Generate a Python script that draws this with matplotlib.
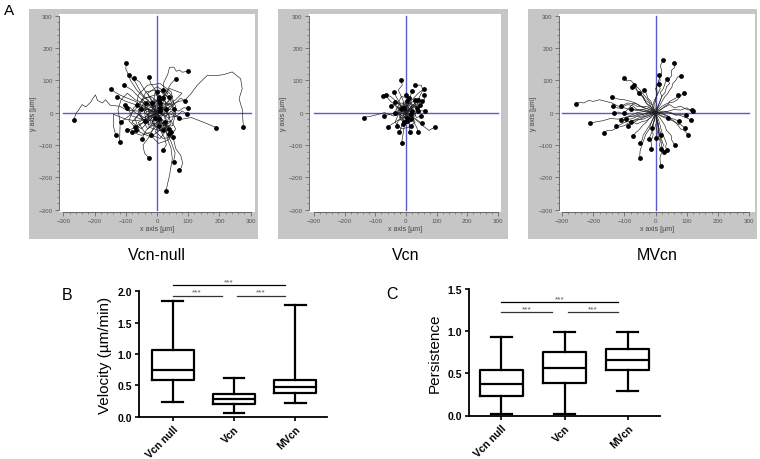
import matplotlib
matplotlib.use("Agg")
import matplotlib.pyplot as plt
from matplotlib.patches import Rectangle
from matplotlib.ticker import MultipleLocator

plt.rcParams['font.family'] = ['Liberation Sans', 'DejaVu Sans']

# ---- data -------------------------------------------------------------
panel_names = ["Vcn-null", "Vcn", "MVcn"]

# cell tracks (x, y in um), each starting at the origin
vcn_null_tracks = [
    [(0, 0), (20, 30), (45, 25), (70, 35), (89, 38), (110, 60), (129, 85), (150, 105), (161, 115), (193, 115),
     (215, 118), (241, 126), (255, 115), (268, 105), (273, 74), (263, 43), (270, 20), (273, 12), (275, -20), (277, -43)],
    [(0, 0), (-30, 10), (-60, 5), (-95, 7), (-120, 20), (-150, 23), (-165, 40), (-175, 30), (-191, 38), (-197, 55),
     (-205, 45), (-212, 33), (-228, 18), (-240, 25), (-250, 10), (-260, -3), (-266, -23)],
    [(0, 0), (10, 30), (25, 60), (20, 90), (35, 120), (40, 140), (54, 141), (62, 128), (72, 132), (80, 125), (98, 128)],
    [(0, 0), (12, -25), (30, -55), (33, -80), (45, -110), (49, -142), (44, -170), (40, -195), (35, -215), (29, -241)],
    [(0, 0), (20, -35), (45, -60), (55, -90), (60, -111), (76, -132), (82, -155), (78, -170), (70, -176)],
    [(0, 0), (-15, -30), (10, -55), (30, -60), (45, -90), (58, -125), (53, -153)],
    [(0, 0), (-20, 30), (-45, 50), (-65, 70), (-85, 100), (-95, 125), (-100, 135), (-98, 154)],
    [(0, 0), (-25, 35), (-50, 60), (-70, 95), (-89, 115)],
    [(0, 0), (-20, 45), (-40, 70), (-55, 95), (-75, 107)],
    [(0, 0), (-10, 40), (-5, 70), (-20, 90), (-26, 110)],
    [(0, 0), (15, 35), (30, 65), (45, 90), (60, 105)],
    [(0, 0), (-35, 15), (-70, 35), (-95, 45), (-120, 55), (-148, 72)],
    [(0, 0), (-35, 5), (-70, 25), (-100, 35), (-127, 48)],
    [(0, 0), (-25, 25), (-55, 45), (-80, 70), (-106, 85)],
    [(0, 0), (-40, -15), (-70, 0), (-85, 15), (-102, 23)],
    [(0, 0), (-35, -20), (-70, -25), (-100, -20), (-140, -5), (-140, -40), (-135, -60), (-130, -70)],
    [(0, 0), (-25, -25), (-55, -35), (-80, -50), (-95, -55)],
    [(0, 0), (-20, -15), (-45, -30), (-68, -52)],
    [(0, 0), (-15, -35), (-35, -55), (-49, -82)],
    [(0, 0), (-10, -45), (-25, -75), (-45, -100), (-40, -125), (-26, -140)],
    [(0, 0), (5, -45), (25, -80), (30, -100), (19, -116)],
    [(0, 0), (45, -5), (80, -20), (110, -15), (150, -30), (175, -40), (190, -46)],
    [(0, 0), (35, 15), (60, 30), (75, 45), (90, 37)],
    [(0, 0), (40, 10), (70, 5), (85, 15), (98, 14)],
    [(0, 0), (35, -15), (65, -10), (80, 5), (95, -3)],
    [(0, 0), (20, -25), (30, -45), (38, -65)],
    [(0, 0), (5, 30), (20, 50), (18, 71)],
    [(0, 0), (-25, 5), (-45, 30), (-70, 40), (-95, 60), (-115, 40), (-125, 10), (-118, -30), (-120, -90)],
    [(0, 0), (20, 20), (-10, 40), (-40, 20), (-30, -10), (10, -20), (30, 10)],
    [(0, 0), (-20, -10), (-10, -40), (20, -30), (40, -50)],
    [(0, 0), (-30, 10), (-50, 40), (-20, 50), (10, 30)],
    [(0, 0), (30, -10), (40, 20), (15, 45), (-15, 30)],
    [(0, 0), (-15, -25), (-45, -20), (-60, 10), (-35, 30)],
    [(0, 0), (25, 25), (50, 50), (30, 70), (0, 65)],
    [(0, 0), (10, -30), (-20, -60), (-50, -70), (-80, -60)],
    [(0, 0), (30, -40), (50, -20), (60, 20), (40, 50)],
    [(0, 0), (-5, 20), (15, 25), (20, -5), (-5, -15)],
    [(0, 0), (-25, 0), (-30, -35), (0, -45), (25, -30)],
    [(0, 0), (15, 15), (35, 0), (45, -35), (20, -55)],
    [(0, 0), (-10, 10), (-30, -5), (-20, -30), (5, -20)],
    [(0, 0), (40, 30), (60, 0), (50, -40), (20, -45), (45, -60)],
    [(0, 0), (-40, 35), (-60, 0), (-30, -50), (0, -30), (-10, 10), (-50, 10)],
    [(0, 0), (35, 60), (0, 80), (-30, 60), (-10, 20), (5, 50)],
    [(0, 0), (-60, -30), (-40, -60), (10, -80), (40, -40), (5, -40)],
    [(0, 0), (60, 40), (80, 60), (40, 75), (20, 45)],
    [(0, 0), (-50, -50), (-80, -30), (-60, -5), (-40, -25)],
    [(0, 0), (-60, 20), (-90, -10), (-110, -25), (-115, -28)],
    [(0, 0), (-20, 25), (-45, 10), (-70, -20), (-55, -60), (-20, -75), (15, -50), (30, -20), (10, 5)],
    [(0, 0), (25, -5), (55, 25), (45, 65), (10, 90), (-30, 85), (-60, 55), (-65, 25)],
    [(0, 0), (-10, -20), (15, -35), (45, -25), (60, -50), (35, -85), (5, -95), (-20, -70)],
    [(0, 0), (30, 15), (25, 40), (-5, 55), (-40, 45), (-75, 15), (-90, -25), (-70, -45)],
    [(0, 0), (-35, -5), (-55, 25), (-35, 65), (5, 70), (40, 45), (55, 10)],
    [(0, 0), (15, -20), (-5, -35), (-35, -30), (-40, 5), (-15, 20), (10, 15)],
    [(0, 0), (20, 10), (40, -10), (30, -35), (5, -30), (-5, -60), (20, -80), (50, -75)],
    [(0, 0), (-30, -15), (-25, -45), (5, -55), (30, -45), (25, -15), (45, 5), (70, -15)],
    [(0, 0), (10, 25), (-15, 35), (-30, 20), (-25, -5), (-50, -20), (-80, -10), (-95, 15)],
    [(0, 0), (-15, 15), (5, 30), (30, 25), (45, 45), (25, 55), (5, 40)],
]

vcn_tracks = [
    [(0, 0), (-10, 40), (-25, 70), (-12, 85), (-16, 102)],
    [(0, 0), (-30, 20), (-50, 35), (-62, 48), (-75, 51)],
    [(0, 0), (-25, 30), (-50, 50), (-64, 56)],
    [(0, 0), (-20, 30), (-35, 55), (-40, 65)],
    [(0, 0), (-15, 20), (-34, 34)],
    [(0, 0), (-40, -10), (-70, 0), (-90, -5), (-110, -10), (-138, -15)],
    [(0, 0), (-30, 0), (-50, -5), (-70, -9)],
    [(0, 0), (-20, -20), (-45, -35), (-59, -45)],
    [(0, 0), (-10, -30), (-21, -61)],
    [(0, 0), (-5, -40), (-10, -70), (-14, -94)],
    [(0, 0), (10, -30), (12, -61)],
    [(0, 0), (20, -20), (35, -45), (41, -61)],
    [(0, 0), (25, -15), (53, -33)],
    [(0, 0), (30, -20), (55, -40), (75, -55), (95, -44)],
    [(0, 0), (10, 35), (20, 68)],
    [(0, 0), (20, 40), (40, 60), (58, 73)],
    [(0, 0), (30, 30), (60, 40), (60, 56)],
    [(0, 0), (25, 20), (52, 37)],
    [(0, 0), (30, 5), (63, 6)],
    [(0, 0), (20, 15), (45, 24)],
    [(0, 0), (40, 40), (55, 70), (50, 85), (30, 85)],
    [(0, 0), (10, 15), (-5, 25), (-15, 10)],
    [(0, 0), (-10, -10), (5, -20), (15, -5)],
    [(0, 0), (15, -5), (20, 20), (5, 35)],
    [(0, 0), (-15, 5), (-20, -20), (-5, -30)],
    [(0, 0), (5, 25), (25, 35), (35, 15)],
    [(0, 0), (-10, 20), (-30, 15), (-35, 0)],
    [(0, 0), (20, -10), (30, -30), (15, -40)],
    [(0, 0), (-5, -15), (-25, -25), (-30, -40)],
    [(0, 0), (10, 5), (25, -5), (40, 5)],
    [(0, 0), (-5, 10), (0, 30), (10, 45)],
    [(0, 0), (5, -10), (-10, -15), (-10, -35)],
    [(0, 0), (-20, 10), (-40, 25), (-50, 20)],
    [(0, 0), (15, 10), (30, 25), (40, 40)],
    [(0, 0), (20, 5), (35, -15), (50, -10)],
    [(0, 0), (-10, 30), (10, 40), (0, 55)],
    [(0, 0), (35, 20), (45, 45), (30, 40)],
    [(0, 0), (-15, -10), (-25, 10), (-10, 25), (15, 20), (20, -5), (5, -25)],
    [(0, 0), (12, 12), (0, 28), (-20, 30), (-30, 10), (-20, -15), (5, -15)],
    [(0, 0), (10, -15), (30, -10), (35, 15), (15, 30), (-5, 15)],
    [(0, 0), (-8, 18), (-25, 5), (-15, -20), (10, -30), (25, -20), (20, 5)],
    [(0, 0), (20, 20), (10, 45), (-15, 50), (-25, 30), (-10, 15)],
    [(0, 0), (-25, -5), (-35, -30), (-15, -50), (10, -45), (15, -20)],
]

mvcn_tracks = [
    [(0, 0), (5, 20), (-2, 40), (8, 60), (15, 75), (8, 90), (10, 100), (18, 115), (20, 130), (15, 145), (25, 163)],
    [(0, 0), (10, 25), (20, 50), (30, 62), (35, 80), (45, 90), (40, 100), (52, 115), (50, 130), (62, 140), (59, 154)],
    [(0, 0), (15, 25), (30, 50), (38, 58), (45, 70), (52, 78), (55, 90), (65, 100), (70, 110), (82, 113)],
    [(0, 0), (-3, 30), (5, 60), (2, 85), (15, 100), (11, 115)],
    [(0, 0), (10, 25), (20, 50), (15, 62), (25, 75), (30, 90), (37, 105)],
    [(0, 0), (-15, 12), (-30, 30), (-38, 42), (-45, 55), (-60, 70), (-68, 88), (-80, 100), (-92, 98), (-102, 108)],
    [(0, 0), (-15, 18), (-30, 30), (-40, 48), (-55, 60), (-62, 72), (-75, 79)],
    [(0, 0), (-10, 22), (-25, 40), (-35, 52), (-50, 70), (-58, 78), (-70, 85)],
    [(0, 0), (-12, 12), (-20, 30), (-32, 38), (-40, 50), (-53, 61)],
    [(0, 0), (-8, 18), (-15, 35), (-25, 45), (-30, 60), (-37, 69)],
    [(0, 0), (15, 8), (30, 20), (40, 25), (45, 35), (55, 40), (65, 45), (73, 56)],
    [(0, 0), (-30, 8), (-60, 10), (-75, 22), (-90, 25), (-105, 18), (-120, 20), (-140, 30), (-160, 35),
     (-180, 40), (-200, 35), (-215, 38), (-230, 30), (-245, 32), (-257, 27)],
    [(0, 0), (-25, 12), (-50, 20), (-65, 30), (-80, 35), (-100, 40), (-120, 42), (-139, 48)],
    [(0, 0), (-30, 2), (-60, 10), (-80, 8), (-100, 15), (-120, 14), (-137, 20)],
    [(0, 0), (-30, 5), (-60, 0), (-80, -8), (-100, -5), (-120, 2), (-134, 0)],
    [(0, 0), (-20, 2), (-40, 10), (-60, 6), (-80, 12)],
    [(0, 0), (-30, -2), (-60, -10), (-90, -12), (-120, -20), (-145, -18), (-170, -25), (-190, -28), (-209, -33)],
    [(0, 0), (-25, -8), (-50, -20), (-75, -25), (-100, -40), (-120, -45), (-140, -55), (-155, -55), (-166, -63)],
    [(0, 0), (-25, -10), (-50, -15), (-75, -25), (-100, -30), (-115, -38), (-128, -41)],
    [(0, 0), (-20, -2), (-40, -10), (-60, -12), (-80, -20), (-95, -18), (-112, -24)],
    [(0, 0), (-20, -12), (-40, -20), (-55, -22), (-70, -30), (-80, -32), (-88, -41)],
    [(0, 0), (-15, -12), (-30, -30), (-40, -38), (-55, -55), (-62, -60), (-73, -72)],
    [(0, 0), (-8, -20), (-20, -40), (-28, -52), (-40, -70), (-42, -82), (-50, -95)],
    [(0, 0), (-12, -25), (-20, -50), (-32, -68), (-40, -90), (-45, -102), (-50, -120), (-51, -140)],
    [(0, 0), (-2, -20), (-10, -40), (-12, -60), (-21, -80)],
    [(0, 0), (-5, -25), (-13, -47)],
    [(0, 0), (5, -20), (0, -40), (6, -60), (2, -78)],
    [(0, 0), (2, -18), (10, -35), (8, -52), (16, -70)],
    [(0, 0), (20, -10), (41, -16)],
    [(0, 0), (15, -18), (30, -40), (35, -55), (50, -70), (52, -85), (62, -101)],
    [(0, 0), (20, -2), (40, -10), (50, -18), (60, -20), (75, -27)],
    [(0, 0), (20, -12), (40, -20), (55, -25), (70, -35), (82, -38), (94, -47)],
    [(0, 0), (25, -5), (50, -20), (65, -30), (80, -50), (92, -55), (104, -68)],
    [(0, 0), (25, 5), (50, 0), (65, -8), (80, -5), (96, -8)],
    [(0, 0), (30, 2), (60, 10), (80, 8), (100, 15), (108, 10), (116, 9)],
    [(0, 0), (30, 2), (60, -5), (78, -8), (95, -15), (105, -18), (113, -24)],
    [(0, 0), (-5, -25), (-10, -50), (-8, -70), (-15, -90), (-12, -100), (-16, -111)],
    [(0, 0), (5, -25), (10, -50), (8, -70), (15, -90), (12, -100), (16, -111)],
    [(0, 0), (5, -30), (15, -60), (18, -80), (25, -100), (22, -110), (27, -120)],
    [(0, 0), (12, -30), (20, -60), (28, -78), (35, -95), (32, -105), (37, -116)],
    [(0, 0), (5, -30), (10, -60), (18, -90), (20, -120), (14, -140), (16, -165)],
    [(0, 0), (-15, 12), (-30, 20), (-45, 18), (-60, 20), (-75, 28), (-90, 30), (-110, 20)],
    [(0, 0), (-20, 2), (-40, -5), (-55, -4), (-70, -10), (-85, -12), (-95, -20)],
    [(0, 0), (-20, 10), (-40, 15), (-55, 25), (-70, 30), (-85, 15), (-100, 0)],
    [(0, 0), (-15, -15), (-30, -25), (-45, -28), (-60, -35), (-70, -30), (-80, -30)],
    [(0, 0), (20, 20), (40, 30), (55, 32), (70, 40), (80, 52), (90, 60)],
    [(0, 0), (25, 15), (45, 25), (60, 15), (80, 20), (100, 10), (120, 5)],
    [(0, 0), (-10, 15), (-5, 35), (5, 55), (0, 75), (10, 90)],
]

groups = ["Vcn null", "Vcn", "MVcn"]
# box stats: whisker low, q1, median, q3, whisker high
velocity_lo = [0.24, 0.065, 0.225]
velocity_q1 = [0.59, 0.20, 0.38]
velocity_med = [0.75, 0.28, 0.48]
velocity_q3 = [1.065, 0.37, 0.59]
velocity_hi = [1.85, 0.615, 1.775]

persist_lo = [0.02, 0.02, 0.287]
persist_q1 = [0.228, 0.38, 0.535]
persist_med = [0.377, 0.558, 0.656]
persist_q3 = [0.54, 0.75, 0.793]
persist_hi = [0.935, 0.99, 0.99]

# ---- figure -----------------------------------------------------------
W, H = 760, 460
fig = plt.figure(figsize=(W / 100, H / 100), dpi=100)


def px_rect(l, t, r, b):
    return [l / W, 1 - b / H, (r - l) / W, (b - t) / H]


# gray frames and axes for the three track plots
frames = [(29, 10, 258, 240), (278, 10, 508, 240), (528, 10, 757, 240)]
plot_areas = [(59, 15, 255, 213), (309, 15, 501, 213), (559, 15, 755, 213)]
xlims = [(-314, 314), (-316, 310), (-310, 319)]
title_x = [157, 406, 657]
all_tracks = [vcn_null_tracks, vcn_tracks, mvcn_tracks]

for i in range(3):
    l, t, r, b = frames[i]
    fig.patches.append(Rectangle((l / W, 1 - b / H), (r - l) / W, (b - t) / H,
                                 transform=fig.transFigure, facecolor="#c6c6c6",
                                 edgecolor="none", zorder=-5))
    ax = fig.add_axes(px_rect(*plot_areas[i]))
    ax.set_zorder(2)
    ax.set_xlim(*xlims[i])
    ax.set_ylim(-307, 305)
    ax.plot([-300, 300], [0, 0], color="#5a5ad2", lw=1.0, zorder=1)
    ax.plot([0, 0], [-300, 300], color="#5a5ad2", lw=1.0, zorder=1)
    for tr in all_tracks[i]:
        xs = [p[0] for p in tr]
        ys = [p[1] for p in tr]
        ax.plot(xs, ys, color="#1e1e1e", lw=0.45, zorder=2)
        ax.scatter([xs[-1]], [ys[-1]], s=12, color="black", zorder=3, linewidths=0)
    for side in ["top", "right"]:
        ax.spines[side].set_visible(False)
    for side in ["left", "bottom"]:
        ax.spines[side].set_bounds(-300, 300)
        ax.spines[side].set_color("#555555")
        ax.spines[side].set_linewidth(0.6)
    ax.xaxis.set_major_locator(MultipleLocator(100))
    ax.yaxis.set_major_locator(MultipleLocator(100))
    ax.xaxis.set_minor_locator(MultipleLocator(20))
    ax.yaxis.set_minor_locator(MultipleLocator(20))
    ax.tick_params(which="major", direction="out", length=3, width=0.5, color="#555555",
                   labelsize=4.5, labelcolor="#555555", pad=1.5)
    ax.tick_params(which="minor", direction="out", length=1.5, width=0.4, color="#555555")
    ax.set_xlabel("x axis [µm]", fontsize=5, color="#444444", labelpad=1)
    ax.set_ylabel("y axis [µm]", fontsize=5, color="#444444", labelpad=1)
    fig.text(title_x[i] / W, 1 - 256 / H, panel_names[i], fontsize=11.5,
             ha="center", va="center")

fig.text(9 / W, 1 - 11 / H, "A", fontsize=11, ha="center", va="center")


def box_panel(rect, xlim, ylim, yticks, lo, q1, med, q3, hi, ylabel, sig_y, letter, letter_xy):
    ax = fig.add_axes(px_rect(*rect))
    stats = []
    for k in range(len(groups)):
        stats.append({"whislo": lo[k], "q1": q1[k], "med": med[k], "q3": q3[k],
                      "whishi": hi[k], "fliers": []})
    lp = {"color": "black", "linewidth": 1.6}
    ax.bxp(stats, positions=range(len(groups)), widths=0.68, showfliers=False,
           boxprops=lp, whiskerprops=lp, capprops=lp, medianprops=lp)
    ax.set_xlim(*xlim)
    ax.set_ylim(*ylim)
    ax.set_yticks(yticks)
    ax.set_yticklabels([f"{v:.1f}" for v in yticks])
    ax.set_xticks(range(len(groups)))
    ax.set_xticklabels(groups, rotation=45, ha="right", rotation_mode="anchor")
    for lab in ax.get_xticklabels() + ax.get_yticklabels():
        lab.set_fontweight("bold")
        lab.set_fontsize(7.5)
    ax.tick_params(direction="out", length=3, width=1.2, pad=2)
    for side in ["top", "right"]:
        ax.spines[side].set_visible(False)
    for side in ["left", "bottom"]:
        ax.spines[side].set_linewidth(1.3)
    ax.set_ylabel(ylabel, fontsize=11, labelpad=4)
    # significance bars
    top, low = sig_y
    for x0, x1, yy, c in [(0, 1.84, top, "black"), (0, 0.80, low, "#333333"), (1.05, 1.84, low, "#333333")]:
        ax.plot([x0, x1], [yy, yy], color=c, lw=0.9, clip_on=False)
        ax.text((x0 + x1) / 2, yy, "***", fontsize=6, color="#555555", ha="center",
                va="bottom", clip_on=False)
    fig.text(letter_xy[0] / W, 1 - letter_xy[1] / H, letter, fontsize=11.5, ha="center", va="center")
    return ax


box_panel((139, 292.3, 327, 417.7), (-0.55, 2.52), (0, 2.0), [0.0, 0.5, 1.0, 1.5, 2.0],
          velocity_lo, velocity_q1, velocity_med, velocity_q3, velocity_hi,
          "Velocity (µm/min)", (2.10, 1.93), "B", (67, 296))
box_panel((469, 290, 660, 416.5), (-0.51, 2.51), (0, 1.5), [0.0, 0.5, 1.0, 1.5],
          persist_lo, persist_q1, persist_med, persist_q3, persist_hi,
          "Persistence", (1.343, 1.225), "C", (392, 295))

fig.savefig("out.png", dpi=100)
